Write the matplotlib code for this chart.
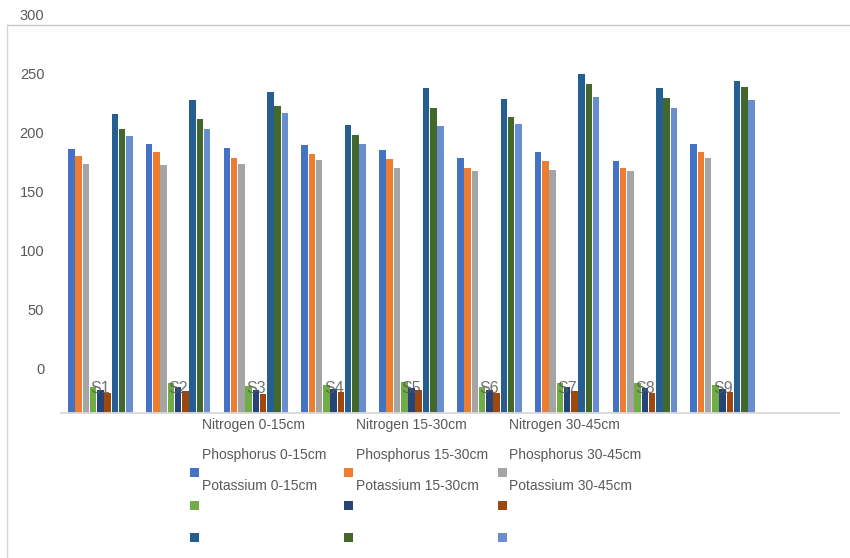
import numpy as np
import matplotlib.pyplot as plt
from matplotlib.lines import Line2D
from matplotlib.patches import Rectangle

# bar heights above the axis line, one list per sample S1..S9
samples = ["S1", "S2", "S3", "S4", "S5", "S6", "S7", "S8", "S9"]

nitrogen_0_15 = [223.5, 228.0, 224.6, 226.9, 222.6, 216.4, 221.2, 213.3, 227.7]
nitrogen_15_30 = [217.5, 221.2, 216.4, 219.7, 215.3, 207.6, 213.3, 207.4, 221.2]
nitrogen_30_45 = [211.0, 209.9, 211.0, 214.4, 207.9, 205.1, 206.2, 205.1, 216.4]
phosphorus_0_15 = [21.8, 25.2, 22.9, 24.0, 26.3, 21.8, 25.2, 25.2, 23.7]
phosphorus_15_30 = [19.2, 21.8, 19.5, 20.3, 21.4, 19.5, 22.0, 21.2, 20.3]
phosphorus_30_45 = [17.2, 18.6, 16.1, 18.1, 19.5, 16.7, 18.9, 16.9, 17.5]
potassium_0_15 = [253.4, 265.3, 272.3, 244.1, 275.4, 265.8, 287.5, 275.4, 281.1]
potassium_15_30 = [240.7, 249.4, 260.4, 235.3, 258.7, 250.6, 278.8, 266.7, 276.0]
potassium_30_45 = [234.7, 240.4, 254.0, 227.7, 243.5, 244.7, 267.8, 258.7, 265.3]

series_names = ["Nitrogen 0-15cm", "Nitrogen 15-30cm", "Nitrogen 30-45cm",
                "Phosphorus 0-15cm", "Phosphorus 15-30cm", "Phosphorus 30-45cm",
                "Potassium 0-15cm", "Potassium 15-30cm", "Potassium 30-45cm"]
series_values = [nitrogen_0_15, nitrogen_15_30, nitrogen_30_45,
                 phosphorus_0_15, phosphorus_15_30, phosphorus_30_45,
                 potassium_0_15, potassium_15_30, potassium_30_45]
colors = ["#4472C4", "#ED7D31", "#A5A5A5",
          "#70AD47", "#264478", "#9E480E",
          "#255E91", "#43682B", "#698ED0"]

tick_labels = ["0", "50", "100", "150", "200", "250", "300"]
tick_offset = 37.9  # the printed axis labels sit above the bar baseline

plt.rcParams['font.family'] = ['Liberation Sans', 'DejaVu Sans']
text_color = "#595959"

W, H = 850, 558
fig = plt.figure(figsize=(W / 100, H / 100), dpi=100)
ax = fig.add_axes([61.4 / W, (H - 413) / H, 778 / W, 403 / H])

x = np.arange(len(samples))
pitch = 0.0933
width = 0.084
for i, (vals, c) in enumerate(zip(series_values, colors)):
    ax.bar(x + (i - 4) * pitch, vals, width=width, color=c, linewidth=0)

ax.set_xlim(-0.5, 9.5)
ax.set_ylim(0, 341.5)
ax.set_yticks(tick_offset + 50 * np.arange(len(tick_labels)), labels=tick_labels)
ax.set_xticks([])
ax.tick_params(axis='y', length=0, pad=12.3, labelsize=10.5, labelcolor=text_color)
for side in ['top', 'right', 'left']:
    ax.spines[side].set_visible(False)
ax.spines['bottom'].set_color("#d9d9d9")
ax.spines['bottom'].set_linewidth(1.3)

# category labels drawn over the short bars
for xi, s in zip(x, samples):
    ax.text(xi, 20.6, s, ha='center', va='center', fontsize=11.5, color=text_color, alpha=0.85)

# chart frame (top and left edges only)
fig.add_artist(Line2D([7 / W, 1.0], [1 - 25 / H, 1 - 25 / H], transform=fig.transFigure,
                      color="#c8c8c8", lw=1.0))
fig.add_artist(Line2D([7 / W, 7 / W], [0, 1 - 25 / H], transform=fig.transFigure,
                      color="#d6d6d6", lw=1.0))

# legend, laid out like the original (labels and markers out of step)
text_x = [202.3, 355.7, 509.0]
text_y = [425.0, 454.5, 485.5]
mark_x = [194.5, 348.0, 502.0]
mark_y = [472.7, 505.0, 537.0]
sq = 9.0
for k in range(9):
    row, col = divmod(k, 3)
    fig.text(text_x[col] / W, 1 - text_y[row] / H, series_names[k], ha='left', va='center',
             fontsize=10, color=text_color)
    fig.add_artist(Rectangle(((mark_x[col] - sq / 2) / W, 1 - (mark_y[row] + sq / 2) / H),
                             sq / W, sq / H, transform=fig.transFigure,
                             facecolor=colors[k], edgecolor='none'))

fig.savefig("out.png", dpi=100)
